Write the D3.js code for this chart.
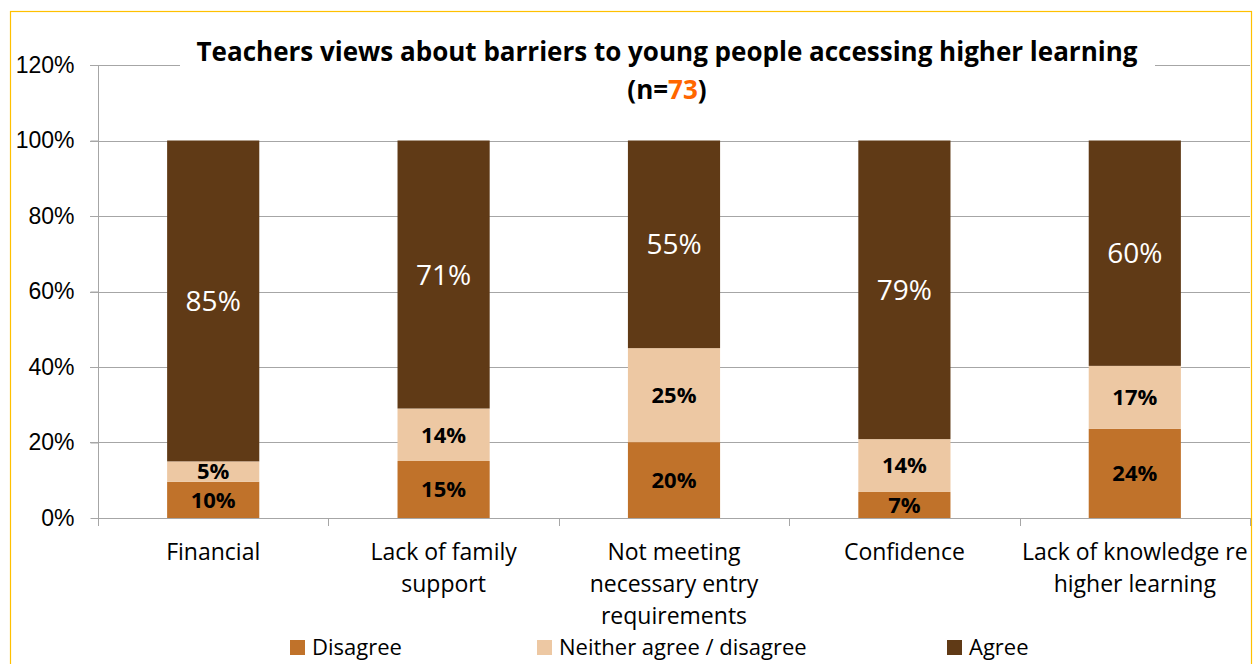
<!DOCTYPE html>
<html>
<head>
<meta charset="utf-8">
<script src="https://cdn.jsdelivr.net/npm/d3@7"></script>
<style>
  body { margin: 0; background: #fff; }
  svg { display: block; font-family: "Open Sans", "Noto Sans", sans-serif; }
</style>
</head>
<body>
<div id="chart"></div>
<script>
var categories = ["Financial", "Lack of family\nsupport", "Not meeting\nnecessary entry\nrequirements", "Confidence", "Lack of knowledge re\nhigher learning"];
var series = ["Disagree", "Neither agree / disagree", "Agree"];
var disagree = [0.096, 0.151, 0.201, 0.069, 0.236];
var neither  = [0.054, 0.139, 0.249, 0.140, 0.167];
var agree    = [0.850, 0.710, 0.550, 0.791, 0.597];
var yTicks = [0, 0.2, 0.4, 0.6, 0.8, 1.0, 1.2];

var colors = {"Disagree": "#c0722a", "Neither agree / disagree": "#edc8a3", "Agree": "#603a16"};

var width = 1260, height = 664;
var margin = {left: 98, right: 10, top: 65, bottom: 146};

var svg = d3.select("#chart").append("svg")
  .attr("width", width)
  .attr("height", height);

// yellow frame
svg.append("rect")
  .attr("x", 10.5).attr("y", 11.5)
  .attr("width", 1241).attr("height", 670)
  .attr("fill", "none")
  .attr("stroke", "#ffc000")
  .attr("stroke-width", 1.2);

var x = d3.scaleBand()
  .domain(categories)
  .range([margin.left, width - margin.right])
  .paddingInner(0.6).paddingOuter(0.3);

var y = d3.scaleLinear()
  .domain([0, 1.2])
  .range([height - margin.bottom, margin.top]);

// grid lines
svg.append("g")
  .selectAll("line")
  .data(yTicks.slice(1))
  .enter().append("line")
  .attr("x1", margin.left - 8).attr("x2", width - margin.right)
  .attr("y1", d => Math.round(y(d)) + 0.5).attr("y2", d => Math.round(y(d)) + 0.5)
  .attr("stroke", "#a6a6a6").attr("stroke-width", 1);

// y axis
var yAxis = svg.append("g")
  .attr("transform", "translate(" + (margin.left + 0.5) + ",0)")
  .call(d3.axisLeft(y).tickValues(yTicks).tickFormat(d3.format(".0%")).tickSize(8).tickPadding(16));
yAxis.selectAll("text").attr("font-size", 23).attr("fill", "#000");
yAxis.selectAll("line, path").attr("stroke", "#a6a6a6");
yAxis.select(".domain").attr("d", "M0," + y(1.2) + "V" + (y(0) + 0.5));

// stacked data
var rows = categories.map((c, i) => ({cat: c, "Disagree": disagree[i], "Neither agree / disagree": neither[i], "Agree": agree[i]}));
var stack = d3.stack().keys(series)(rows);

var fmt = d3.format(".0%");
var layers = svg.append("g").selectAll("g")
  .data(stack)
  .enter().append("g")
  .attr("fill", d => colors[d.key]);

layers.selectAll("rect")
  .data(d => d)
  .enter().append("rect")
  .attr("x", d => x(d.data.cat))
  .attr("width", x.bandwidth())
  .attr("y", d => y(d[1]))
  .attr("height", d => y(d[0]) - y(d[1]));

layers.selectAll("text")
  .data(d => d.map(v => Object.assign({key: d.key}, {v: v})))
  .enter().append("text")
  .attr("x", d => x(d.v.data.cat) + x.bandwidth() / 2)
  .attr("y", d => (y(d.v[0]) + y(d.v[1])) / 2)
  .attr("dy", "0.36em")
  .attr("text-anchor", "middle")
  .attr("font-size", d => d.key === "Agree" ? 28 : 22)
  .attr("font-weight", d => d.key === "Agree" ? "normal" : "bold")
  .attr("fill", d => d.key === "Agree" ? "#fff" : "#000")
  .text(d => fmt(d.v[1] - d.v[0]));

// x axis line with category separators
var step = x.step();
var x0 = margin.left, x1 = width - margin.right;
var xa = svg.append("g");
xa.append("line")
  .attr("x1", x0).attr("x2", x1)
  .attr("y1", y(0) + 0.5).attr("y2", y(0) + 0.5)
  .attr("stroke", "#a6a6a6");
xa.selectAll(".sep")
  .data(d3.range(categories.length + 1))
  .enter().append("line")
  .attr("x1", i => Math.round(x0 + i * step) + 0.5).attr("x2", i => Math.round(x0 + i * step) + 0.5)
  .attr("y1", y(0)).attr("y2", y(0) + 8)
  .attr("stroke", "#a6a6a6");

xa.selectAll(".lbl")
  .data(categories)
  .enter().append("text")
  .attr("text-anchor", "middle")
  .attr("font-size", 23)
  .attr("fill", "#000")
  .each(function(c) {
    var t = d3.select(this);
    c.split("\n").forEach((line, k) => {
      t.append("tspan")
        .attr("x", x(c) + x.bandwidth() / 2)
        .attr("y", y(0) + 42 + k * 32)
        .text(line);
    });
  });

// title with white background
var title = svg.append("g");
title.append("rect")
  .attr("x", 180).attr("y", 30).attr("width", 975).attr("height", 80)
  .attr("fill", "#fff");
title.append("text")
  .attr("x", 667).attr("y", 61)
  .attr("text-anchor", "middle")
  .attr("font-size", 26).attr("font-weight", "bold")
  .text("Teachers views about barriers to young people accessing higher learning");
var sub = title.append("text")
  .attr("x", 667).attr("y", 99)
  .attr("text-anchor", "middle")
  .attr("font-size", 26).attr("font-weight", "bold");
sub.append("tspan").text("(n=");
sub.append("tspan").attr("fill", "#ff6600").text("73");
sub.append("tspan").text(")");

// legend
var legendX = [290, 537, 947];
var lg = svg.append("g").selectAll("g")
  .data(series)
  .enter().append("g")
  .attr("transform", (d, i) => "translate(" + legendX[i] + "," + 640 + ")");
lg.append("rect")
  .attr("width", 15).attr("height", 15)
  .attr("fill", d => colors[d]);
lg.append("text")
  .attr("x", 22).attr("y", 8)
  .attr("dy", "0.33em")
  .attr("font-size", 22)
  .text(d => d);
</script>
</body>
</html>
